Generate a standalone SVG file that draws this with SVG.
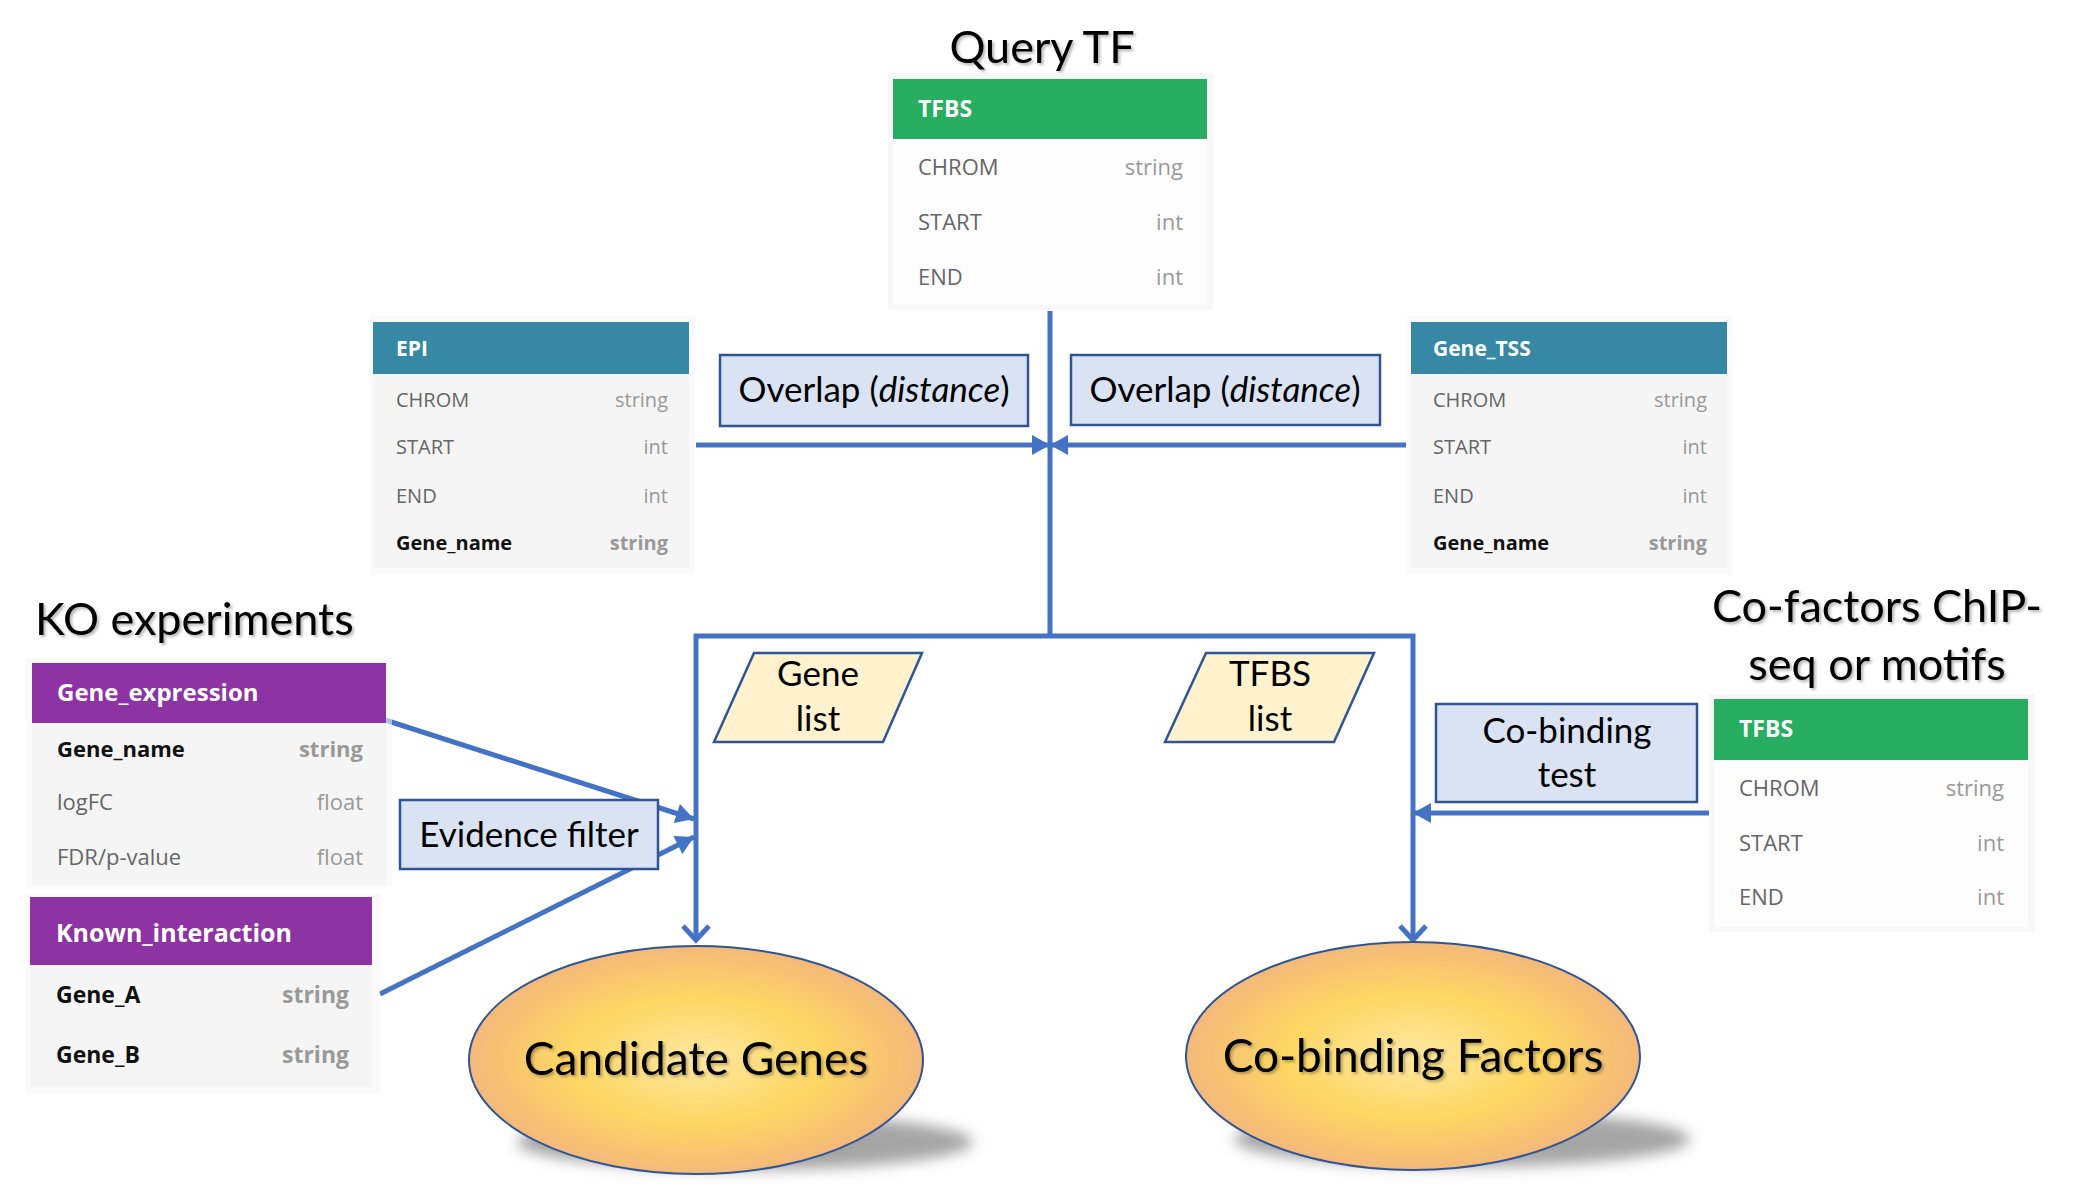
<svg xmlns="http://www.w3.org/2000/svg" width="2074" height="1188" viewBox="0 0 2074 1188">
<style>
.hdr{font-family:"Open Sans",sans-serif;font-weight:700;fill:#fff}
.fld{font-family:"Open Sans",sans-serif;fill:#666}
.typ{font-family:"Open Sans",sans-serif;fill:#999;text-anchor:end}
.key{font-weight:700;fill:#111}
.keyt{font-weight:700;fill:#999}
.title{font-family:Lato,"Liberation Sans",sans-serif;font-size:45px;fill:#000}
.lbl{font-family:Lato,"Liberation Sans",sans-serif;font-size:35px;fill:#000;text-anchor:middle}
.big{font-family:Lato,"Liberation Sans",sans-serif;font-size:46px;fill:#000;text-anchor:middle}
.proc{fill:#dae3f3;stroke:#2f5597;stroke-width:2.5}
.io{fill:#fff2cc;stroke:#2f5597;stroke-width:2.5}
.conn{stroke:#4472c4;stroke-width:5;fill:none}
.outer{fill:#f7f7f7}
.body{fill:#f5f5f5}
.bodyw{fill:#fdfdfd}
.oval{fill:url(#og);stroke:#2f5597;stroke-width:2}
</style>
<defs>
<marker id="tri" markerUnits="userSpaceOnUse" markerWidth="20" markerHeight="22" refX="18" refY="11" orient="auto" overflow="visible">
<path d="M0,1 L18,11 L0,21 Z" fill="#4472c4"/>
</marker>
<marker id="vee" markerUnits="userSpaceOnUse" markerWidth="30" markerHeight="30" refX="15" refY="13" orient="auto" overflow="visible">
<path d="M1,0 L15,13 L1,26" fill="none" stroke="#4472c4" stroke-width="5"/>
</marker>
<radialGradient id="og" cx="50%" cy="50%" r="50%">
<stop offset="0" stop-color="#fee8a2"/>
<stop offset="0.55" stop-color="#fdd763"/>
<stop offset="1" stop-color="#f4b97a"/>
</radialGradient>
<filter id="blur" x="-20%" y="-50%" width="140%" height="200%"><feGaussianBlur stdDeviation="7"/></filter>
<filter id="ts" x="-5%" y="-20%" width="110%" height="150%"><feDropShadow dx="2" dy="2" stdDeviation="1.5" flood-color="#000" flood-opacity="0.3"/></filter>
</defs>
<rect width="2074" height="1188" fill="#fff"/>

<g id="connectors">
<line class="conn" x1="1050" y1="311" x2="1050" y2="636"/>
<line class="conn" x1="696" y1="445" x2="1050" y2="445" marker-end="url(#tri)"/>
<line class="conn" x1="1406" y1="445" x2="1050" y2="445" marker-end="url(#tri)"/>
<path class="conn" d="M1050,636 H696 V940" marker-end="url(#vee)"/>
<path class="conn" d="M1050,636 H1413 V940" marker-end="url(#vee)"/>
<line class="conn" x1="385" y1="720" x2="694" y2="819" marker-end="url(#tri)"/>
<line class="conn" x1="380" y1="994" x2="694" y2="837" marker-end="url(#tri)"/>
<line class="conn" x1="1709" y1="813" x2="1413" y2="813" marker-end="url(#tri)"/>
</g>

<g id="title-query">
<text class="title" x="1042" y="63" text-anchor="middle" filter="url(#ts)">Query TF</text>
</g>
<g id="title-ko">
<text class="title" x="35" y="635" filter="url(#ts)">KO experiments</text>
</g>
<g id="title-cofactors">
<text class="title" x="1877" y="622" text-anchor="middle" filter="url(#ts)">Co-factors ChIP-</text>
<text class="title" x="1877" y="680" text-anchor="middle" filter="url(#ts)">seq or motifs</text>
</g>

<g id="table-query-tfbs">
<rect class="outer" x="888" y="73" width="325" height="237"/>
<rect fill="#27ae60" x="893" y="79" width="314" height="60"/>
<rect class="bodyw" x="893" y="139" width="314" height="166"/>
<text class="hdr" x="918" y="117" font-size="23">TFBS</text>
<text class="fld" x="918" y="175" font-size="22">CHROM</text>
<text class="typ" x="1183" y="175" font-size="22">string</text>
<text class="fld" x="918" y="230" font-size="22">START</text>
<text class="typ" x="1183" y="230" font-size="22">int</text>
<text class="fld" x="918" y="285" font-size="22">END</text>
<text class="typ" x="1183" y="285" font-size="22">int</text>
</g>

<g id="table-epi">
<rect class="outer" x="370" y="316" width="325" height="259" fill-opacity="0.6"/>
<rect fill="#3688a5" x="373" y="322" width="316" height="52"/>
<rect class="body" x="373" y="374" width="316" height="194"/>
<text class="hdr" x="396" y="356" font-size="21">EPI</text>
<text class="fld" x="396" y="407" font-size="20">CHROM</text>
<text class="typ" x="668" y="407" font-size="20">string</text>
<text class="fld" x="396" y="454" font-size="20">START</text>
<text class="typ" x="668" y="454" font-size="20">int</text>
<text class="fld" x="396" y="503" font-size="20">END</text>
<text class="typ" x="668" y="503" font-size="20">int</text>
<text class="fld key" x="396" y="550" font-size="20">Gene_name</text>
<text class="typ keyt" x="668" y="550" font-size="20">string</text>
</g>

<g id="table-gene-tss">
<rect class="outer" x="1407" y="316" width="325" height="259" fill-opacity="0.6"/>
<rect fill="#3688a5" x="1411" y="322" width="316" height="52"/>
<rect class="body" x="1411" y="374" width="316" height="194"/>
<text class="hdr" x="1433" y="356" font-size="21">Gene_TSS</text>
<text class="fld" x="1433" y="407" font-size="20">CHROM</text>
<text class="typ" x="1707" y="407" font-size="20">string</text>
<text class="fld" x="1433" y="454" font-size="20">START</text>
<text class="typ" x="1707" y="454" font-size="20">int</text>
<text class="fld" x="1433" y="503" font-size="20">END</text>
<text class="typ" x="1707" y="503" font-size="20">int</text>
<text class="fld key" x="1433" y="550" font-size="20">Gene_name</text>
<text class="typ keyt" x="1707" y="550" font-size="20">string</text>
</g>

<g id="table-gene-expression">
<rect class="outer" x="26" y="658" width="366" height="229" fill-opacity="0.6"/>
<rect fill="#8e33a3" x="32" y="663" width="354" height="60"/>
<rect class="body" x="32" y="723" width="354" height="162"/>
<text class="hdr" x="57" y="701" font-size="24">Gene_expression</text>
<text class="fld key" x="57" y="757" font-size="22">Gene_name</text>
<text class="typ keyt" x="363" y="757" font-size="22">string</text>
<text class="fld" x="57" y="810" font-size="22">logFC</text>
<text class="typ" x="363" y="810" font-size="22">float</text>
<text class="fld" x="57" y="865" font-size="22">FDR/p-value</text>
<text class="typ" x="363" y="865" font-size="22">float</text>
</g>

<g id="table-known-interaction">
<rect class="outer" x="26" y="894" width="354" height="199" fill-opacity="0.6"/>
<rect fill="#8e33a3" x="30" y="897" width="342" height="68"/>
<rect class="body" x="30" y="965" width="342" height="122"/>
<text class="hdr" x="56" y="942" font-size="25">Known_interaction</text>
<text class="fld key" x="56" y="1003" font-size="23">Gene_A</text>
<text class="typ keyt" x="349" y="1003" font-size="23">string</text>
<text class="fld key" x="56" y="1063" font-size="23">Gene_B</text>
<text class="typ keyt" x="349" y="1063" font-size="23">string</text>
</g>

<g id="table-cofactor-tfbs">
<rect class="outer" x="1709" y="694" width="326" height="238"/>
<rect fill="#27ae60" x="1714" y="699" width="314" height="61"/>
<rect class="bodyw" x="1714" y="760" width="314" height="167"/>
<text class="hdr" x="1739" y="737" font-size="23">TFBS</text>
<text class="fld" x="1739" y="796" font-size="22">CHROM</text>
<text class="typ" x="2004" y="796" font-size="22">string</text>
<text class="fld" x="1739" y="851" font-size="22">START</text>
<text class="typ" x="2004" y="851" font-size="22">int</text>
<text class="fld" x="1739" y="905" font-size="22">END</text>
<text class="typ" x="2004" y="905" font-size="22">int</text>
</g>

<g id="overlap-left">
<rect class="proc" x="720" y="355" width="308" height="71"/>
<text class="lbl" x="874" y="402">Overlap (<tspan font-style="italic">distance</tspan>)</text>
</g>
<g id="overlap-right">
<rect class="proc" x="1071" y="355" width="309" height="70"/>
<text class="lbl" x="1225" y="402">Overlap (<tspan font-style="italic">distance</tspan>)</text>
</g>

<g id="gene-list">
<polygon class="io" points="754,653 922,653 883,742 714,742"/>
<text class="lbl" x="818" y="686">Gene</text>
<text class="lbl" x="818" y="731">list</text>
</g>
<g id="tfbs-list">
<polygon class="io" points="1206,653 1374,653 1334,742 1165,742"/>
<text class="lbl" x="1270" y="686">TFBS</text>
<text class="lbl" x="1270" y="731">list</text>
</g>

<g id="evidence-filter">
<rect class="proc" x="400" y="800" width="258" height="69"/>
<text class="lbl" x="529" y="847">Evidence filter</text>
</g>

<g id="cobinding-test">
<rect class="proc" x="1436" y="704" width="261" height="98"/>
<text class="lbl" x="1567" y="743">Co-binding</text>
<text class="lbl" x="1567" y="787">test</text>
</g>

<g id="candidate-genes">
<ellipse cx="745" cy="1142" rx="228" ry="28" fill="#888" opacity="0.75" filter="url(#blur)"/>
<ellipse class="oval" cx="696" cy="1060" rx="227" ry="114"/>
<text class="big" x="696" y="1075" filter="url(#ts)">Candidate Genes</text>
</g>

<g id="cobinding-factors">
<ellipse cx="1462" cy="1139" rx="228" ry="28" fill="#888" opacity="0.75" filter="url(#blur)"/>
<ellipse class="oval" cx="1413" cy="1056" rx="227" ry="114"/>
<text class="big" x="1413" y="1072" filter="url(#ts)">Co-binding Factors</text>
</g>
</svg>
